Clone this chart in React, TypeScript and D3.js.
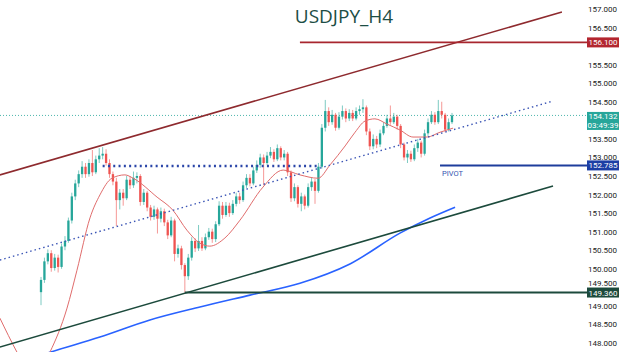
import React from "react";
import * as d3 from "d3";

const W = 625;
const H = 352;

// closes, one per 4h candle
const closes = [
  149.70, 150.20, 150.42, 150.02, 150.30, 150.05, 150.60, 150.75, 151.30, 151.95,
  152.30, 152.55, 152.75, 152.55, 152.85, 152.60, 152.95, 153.05, 153.10, 152.85,
  152.55, 152.35, 151.85, 152.05, 151.90, 152.40, 152.25, 152.45, 152.50, 151.80,
  152.05, 151.65, 151.40, 151.60, 151.35, 151.55, 151.25, 150.90, 151.30, 150.40,
  150.55, 150.10, 149.80, 150.30, 150.75, 150.55, 150.75, 150.55, 150.85, 151.00,
  150.80, 151.20, 151.70, 151.45, 151.70, 151.50, 151.75, 151.95, 151.85, 152.25,
  152.45, 152.30, 152.65, 152.80, 153.00, 152.85, 153.05, 153.15, 152.95, 153.25,
  153.00, 153.10, 152.60, 151.90, 152.20, 151.75, 151.95, 151.70, 152.20, 152.35,
  152.10, 152.75, 153.80, 154.25, 153.95, 154.15, 153.80, 154.10, 154.25, 154.05,
  154.20, 154.05, 154.25, 154.30, 154.35, 153.70, 153.30, 153.50, 153.35, 153.65,
  153.85, 154.05, 153.95, 154.10, 153.85, 153.35, 153.00, 153.10, 152.95, 153.25,
  153.40, 153.10, 153.65, 153.95, 154.15, 153.95, 154.25, 154.15, 153.75, 153.95,
  154.132,
];
const firstOpen = 149.37;
const opens = [firstOpen, ...closes.slice(0, -1)];

const highs = [
  149.78, 150.30, 150.52, 150.50, 150.40, 150.38, 150.68, 150.88, 151.38, 152.05,
  152.40, 152.65, 152.90, 152.85, 152.95, 153.20, 153.05, 153.25, 153.28, 153.22,
  152.95, 152.62, 152.45, 152.15, 152.15, 152.50, 152.50, 152.62, 152.60, 152.55,
  152.15, 152.10, 151.72, 151.70, 151.65, 151.65, 151.62, 151.32, 151.40, 151.35,
  150.65, 150.62, 150.15, 150.40, 150.85, 150.82, 151.18, 150.85, 150.95, 151.10,
  151.08, 151.28, 151.82, 151.80, 151.80, 151.78, 151.85, 152.05, 152.05, 152.35,
  152.55, 152.55, 152.75, 152.92, 153.10, 153.08, 153.15, 153.28, 153.22, 153.35,
  153.30, 153.20, 153.15, 152.65, 152.30, 152.25, 152.05, 152.00, 152.30, 152.45,
  152.42, 152.85, 153.90, 154.55, 154.35, 154.28, 154.20, 154.22, 154.40, 154.32,
  154.30, 154.28, 154.35, 154.40, 154.57, 154.40, 153.78, 153.62, 153.58, 153.75,
  153.95, 154.15, 154.40, 154.20, 154.15, 153.90, 153.40, 153.20, 153.18, 153.35,
  153.50, 153.45, 153.75, 154.05, 154.25, 154.22, 154.55, 154.50, 154.20, 154.05,
  154.20,
];

const lows = [
  149.02, 149.62, 150.12, 149.92, 149.95, 149.90, 150.00, 150.50, 150.70, 151.22,
  151.85, 152.20, 152.45, 152.45, 152.48, 152.50, 152.55, 152.85, 152.95, 152.78,
  152.45, 152.25, 151.15, 151.60, 151.70, 151.85, 152.15, 152.18, 152.30, 151.70,
  151.72, 151.55, 151.30, 151.32, 150.95, 151.25, 151.15, 150.80, 150.85, 150.20,
  150.30, 149.98, 149.36, 149.70, 150.22, 150.45, 150.48, 150.48, 150.50, 150.78,
  150.70, 150.72, 151.15, 151.35, 151.40, 151.40, 151.45, 151.68, 151.75, 151.80,
  152.18, 152.22, 152.25, 152.58, 152.72, 152.25, 152.80, 152.98, 152.88, 152.90,
  152.92, 152.92, 152.50, 151.80, 151.82, 151.65, 151.55, 151.60, 151.65, 152.10,
  151.75, 152.05, 152.70, 153.70, 153.85, 153.88, 153.72, 153.75, 154.02, 153.95,
  153.98, 153.98, 154.00, 154.15, 154.20, 153.60, 153.20, 153.22, 153.25, 153.28,
  153.60, 153.80, 153.88, 153.90, 153.75, 153.25, 152.92, 152.85, 152.88, 152.90,
  153.15, 153.00, 153.05, 153.58, 153.90, 153.88, 153.90, 154.05, 153.68, 153.70,
  153.90,
];

// moving averages, [candle index, price] read at a few points
const redMA: [number, number][] = [
  [-12, 148.67], [-7, 147.75], [-2.3, 147.0], [2.6, 147.75], [7.6, 148.94],
  [10.5, 149.96], [14.3, 151.37], [17.2, 151.99], [20.7, 152.44], [24.5, 152.53],
  [26.9, 152.44], [33.9, 151.93], [38.5, 151.58], [42.6, 151.04], [46.4, 150.69],
  [49.3, 150.61], [53.7, 150.83], [58.1, 151.31], [64.8, 152.2], [70.7, 152.66],
  [75.6, 152.53], [80.9, 152.44], [84.4, 152.8], [88.8, 153.31], [91.7, 153.68],
  [94.6, 153.98], [97.5, 154.04], [101, 153.9], [104.8, 153.74], [108.6, 153.55],
  [112.7, 153.55], [116.5, 153.68], [120.3, 153.79],
];
const blueMA: [number, number][] = [
  [-6.1, 147.49], [2.6, 147.75], [17.2, 148.16], [31.8, 148.62], [46.4, 148.97],
  [61, 149.29], [75.6, 149.61], [90.2, 150.13], [104.8, 150.96], [113.6, 151.37],
  [120.9, 151.66],
];

// drawn trend lines: [startIdx, startPrice, endIdx, endPrice]
const upperChannel = [-12, 152.53, 152.1, 156.92];
const lowerChannel = [-12, 147.89, 149.5, 152.23];
const midTrend = [-12, 150.235, 149.5, 154.52];
const pivotDotted = [18, 152.77, 81.5, 152.77];

// 156.000 and 154.000 sit under the price boxes, so they are not shown
const yTicks = [157, 156.5, 155.5, 155, 154.5, 153.5, 153, 152.5, 152, 151.5, 151, 150.5, 150, 149.5, 149, 148.5, 148];

const resistance = 156.1;
const lastPrice = 154.132;
const countdown = "03:49:39";
const pivot = 152.785;
const support = 149.36;

const UP = "#26a69a";
const DOWN = "#ef5350";

export default function App() {
  const x = d3.scaleLinear().domain([0, 120]).range([41, 452]);
  const y = d3.scaleLinear().domain([148, 157]).range([343, 9]);
  const axisX = 587;
  const bw = 2.3;

  const maLine = d3
    .line<[number, number]>()
    .x((d) => x(d[0]))
    .y((d) => y(d[1]))
    .curve(d3.curveMonotoneX);

  const seg = (s: number[], props: any) => (
    <line x1={x(s[0])} y1={y(s[1])} x2={x(s[2])} y2={y(s[3])} {...props} />
  );

  const priceBox = (p: number, fill: string, label: string) => (
    <g>
      <rect x={axisX} y={y(p) - 5} width={32} height={10} fill={fill} />
      <text x={axisX + 16} y={y(p) + 3} fill="#fff" fontSize={8} textAnchor="middle">
        {label}
      </text>
    </g>
  );

  // tick label just above the support box is nudged up so it stays readable
  const tickY = (t: number) => {
    const base = y(t) + 3;
    const boxTop = y(support) - 5;
    return t > support && base > boxTop - 1.5 ? boxTop - 1.5 : base;
  };

  return (
    <svg
      width={W}
      height={H}
      style={{ position: "absolute", left: 0, top: 0, background: "#fff" }}
      fontFamily="Roboto, 'Liberation Sans', sans-serif"
    >
      <rect width={W} height={H} fill="#fff" />

      {/* current price */}
      <line x1={0} x2={axisX} y1={y(lastPrice)} y2={y(lastPrice)} stroke="#4db6ac" strokeWidth={1} strokeDasharray="1,2" />

      {/* blue MA */}
      <path d={maLine(blueMA) || ""} fill="none" stroke="#2962ff" strokeWidth={1.6} />

      {/* candles */}
      <g>
        {closes.map((c, i) => {
          const o = opens[i];
          const col = c >= o ? UP : DOWN;
          const top = y(Math.max(o, c));
          const bot = y(Math.min(o, c));
          return (
            <g key={i}>
              <line x1={x(i)} x2={x(i)} y1={y(highs[i])} y2={y(lows[i])} stroke={col} strokeOpacity={0.6} strokeWidth={1} />
              <rect x={x(i) - bw / 2} y={top} width={bw} height={Math.max(bot - top, 0.8)} fill={col} />
            </g>
          );
        })}
      </g>

      {/* red MA */}
      <path d={maLine(redMA) || ""} fill="none" stroke="#e06c6c" strokeWidth={1} />

      {/* drawings */}
      {seg(upperChannel, { stroke: "#8e2a2e", strokeWidth: 1.6 })}
      {seg(lowerChannel, { stroke: "#1c4a3c", strokeWidth: 1.6 })}
      {seg(midTrend, { stroke: "#3b55b5", strokeWidth: 1.4, strokeDasharray: "1.5,3" })}
      {seg(pivotDotted, { stroke: "#2a45a8", strokeWidth: 2.4, strokeDasharray: "2,3.3" })}

      <line x1={x(75.6)} x2={axisX} y1={y(resistance)} y2={y(resistance)} stroke="#a8262e" strokeWidth={1.6} />
      <line x1={x(116.5)} x2={axisX} y1={y(pivot)} y2={y(pivot)} stroke="#1e3d9c" strokeWidth={2} />
      <text x={x(116.5) + 2} y={y(pivot) + 10.5} fontSize={7.5} fill="#3454b0">PIVOT</text>
      <line x1={x(42)} x2={axisX} y1={y(support)} y2={y(support)} stroke="#1c4a3c" strokeWidth={2} />

      {/* price axis */}
      {yTicks.map((t) => (
        <text key={t} x={617} y={tickY(t)} fontSize={8} fill="#222" textAnchor="end">
          {t.toFixed(3)}
        </text>
      ))}

      {priceBox(resistance, "#b3262f", resistance.toFixed(3))}
      {priceBox(pivot, "#1c3fa5", pivot.toFixed(3))}
      {priceBox(support, "#1c4a3c", support.toFixed(3))}
      <g>
        <rect x={axisX} y={y(lastPrice) - 3.5} width={32} height={18} fill={UP} />
        <text x={axisX + 16} y={y(lastPrice) + 4} fill="#fff" fontSize={8} textAnchor="middle">
          {lastPrice.toFixed(3)}
        </text>
        <text x={axisX + 16} y={y(lastPrice) + 12.5} fill="#fff" fontSize={8} textAnchor="middle">
          {countdown}
        </text>
      </g>

      <text x={344} y={23} textAnchor="middle" fontSize={19} fill="#1d4e45" fontFamily="'Open Sans', sans-serif">
        USDJPY_H4
      </text>
    </svg>
  );
}
